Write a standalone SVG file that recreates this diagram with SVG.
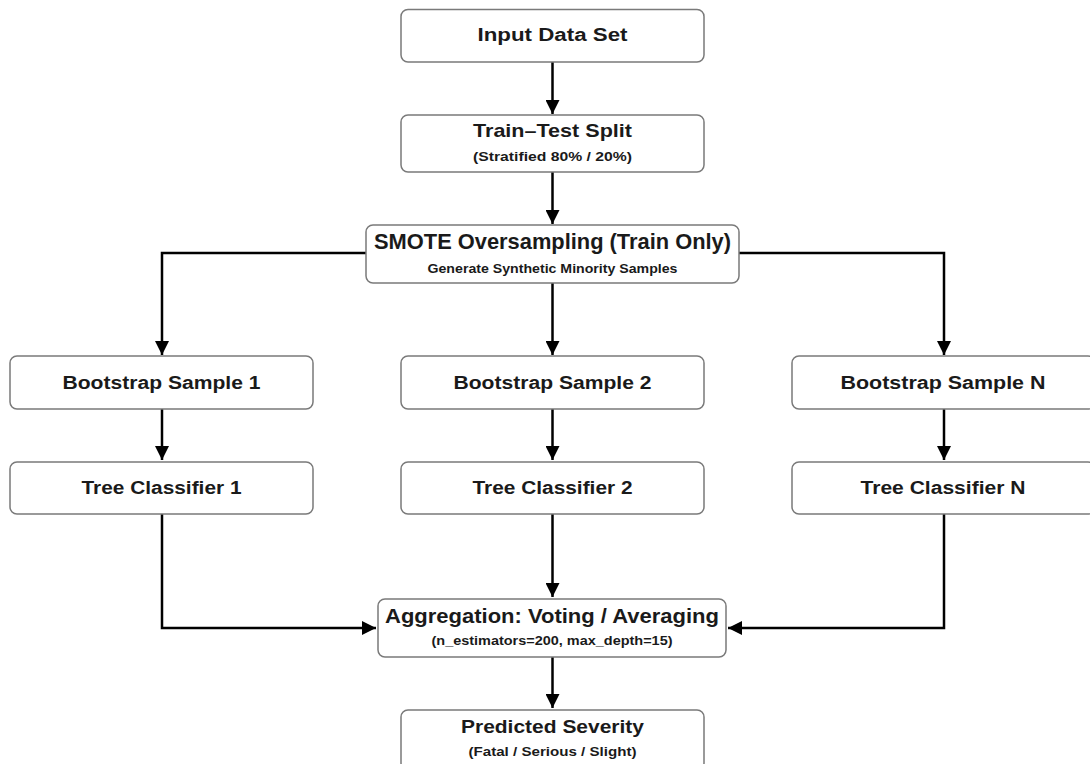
<svg xmlns="http://www.w3.org/2000/svg" width="1090" height="764" viewBox="0 0 1090 764">
<style>
.box{fill:#fff;stroke:#7a7a7a;stroke-width:1.5}
.t{font-family:"Liberation Sans","DejaVu Sans",sans-serif;font-weight:bold;fill:#1a1a1a;text-anchor:middle;dominant-baseline:central}
.s{font-family:"Liberation Sans","DejaVu Sans",sans-serif;font-weight:bold;fill:#1a1a1a;text-anchor:middle;dominant-baseline:central}
.c{fill:none;stroke:#000;stroke-width:2.5}
</style>
<defs>
<marker id="ah" markerWidth="14" markerHeight="14" viewBox="0 0 14 14" refX="14" refY="7" orient="auto" markerUnits="userSpaceOnUse">
<path d="M0,0 L14,7 L0,14 Z" fill="#000"/>
</marker>
</defs>
<rect width="1090" height="764" fill="#fff"/>
<g id="connectors">
<path class="c" d="M552.5,62 V114" marker-end="url(#ah)"/>
<path class="c" d="M552.5,172 V224" marker-end="url(#ah)"/>
<path class="c" d="M366,253 H162 V355" marker-end="url(#ah)"/>
<path class="c" d="M552.5,283 V355" marker-end="url(#ah)"/>
<path class="c" d="M739,253 H944 V355" marker-end="url(#ah)"/>
<path class="c" d="M162,409 V460" marker-end="url(#ah)"/>
<path class="c" d="M552.5,409 V460" marker-end="url(#ah)"/>
<path class="c" d="M944,409 V460" marker-end="url(#ah)"/>
<path class="c" d="M162,514 V628 H376" marker-end="url(#ah)"/>
<path class="c" d="M552.5,514 V597" marker-end="url(#ah)"/>
<path class="c" d="M944,514 V628 H728" marker-end="url(#ah)"/>
<path class="c" d="M552.5,657 V708" marker-end="url(#ah)"/>
</g>
<g id="input">
<rect class="box" x="401" y="9.5" width="303" height="52.5" rx="7"/>
<text class="t" x="552.5" y="35" font-size="18" textLength="150" lengthAdjust="spacingAndGlyphs">Input Data Set</text>
</g>
<g id="split">
<rect class="box" x="401" y="115" width="303" height="57" rx="7"/>
<text class="t" x="552.5" y="130" font-size="19" textLength="159" lengthAdjust="spacingAndGlyphs">Train–Test Split</text>
<text class="s" x="552.5" y="157" font-size="12.5" textLength="159" lengthAdjust="spacingAndGlyphs">(Stratified 80% / 20%)</text>
</g>
<g id="smote">
<rect class="box" x="366" y="225" width="373" height="58" rx="7"/>
<text class="t" x="552.5" y="241" font-size="22" textLength="357" lengthAdjust="spacingAndGlyphs">SMOTE Oversampling (Train Only)</text>
<text class="s" x="552.5" y="269" font-size="12.5" textLength="250" lengthAdjust="spacingAndGlyphs">Generate Synthetic Minority Samples</text>
</g>
<g id="boot1">
<rect class="box" x="10" y="356" width="303" height="53" rx="7"/>
<text class="t" x="161.5" y="382.5" font-size="18" textLength="198" lengthAdjust="spacingAndGlyphs">Bootstrap Sample 1</text>
</g>
<g id="boot2">
<rect class="box" x="401" y="356" width="303" height="53" rx="7"/>
<text class="t" x="552.5" y="382.5" font-size="18" textLength="198" lengthAdjust="spacingAndGlyphs">Bootstrap Sample 2</text>
</g>
<g id="bootN">
<rect class="box" x="792" y="356" width="303" height="53" rx="7"/>
<text class="t" x="943" y="382.5" font-size="18" textLength="205" lengthAdjust="spacingAndGlyphs">Bootstrap Sample N</text>
</g>
<g id="tree1">
<rect class="box" x="10" y="462" width="303" height="52" rx="7"/>
<text class="t" x="161.5" y="488" font-size="18" textLength="160" lengthAdjust="spacingAndGlyphs">Tree Classifier 1</text>
</g>
<g id="tree2">
<rect class="box" x="401" y="462" width="303" height="52" rx="7"/>
<text class="t" x="552.5" y="488" font-size="18" textLength="160" lengthAdjust="spacingAndGlyphs">Tree Classifier 2</text>
</g>
<g id="treeN">
<rect class="box" x="792" y="462" width="303" height="52" rx="7"/>
<text class="t" x="943" y="488" font-size="18" textLength="165" lengthAdjust="spacingAndGlyphs">Tree Classifier N</text>
</g>
<g id="aggregation">
<rect class="box" x="378" y="599" width="348" height="58" rx="7"/>
<text class="t" x="552" y="615" font-size="21" textLength="334" lengthAdjust="spacingAndGlyphs">Aggregation: Voting / Averaging</text>
<text class="s" x="552" y="641" font-size="12.5" textLength="241" lengthAdjust="spacingAndGlyphs">(n_estimators=200, max_depth=15)</text>
</g>
<g id="predicted">
<rect class="box" x="401" y="710" width="303" height="60" rx="7"/>
<text class="t" x="552.5" y="726" font-size="19" textLength="183" lengthAdjust="spacingAndGlyphs">Predicted Severity</text>
<text class="s" x="552.5" y="751" font-size="13" textLength="168" lengthAdjust="spacingAndGlyphs">(Fatal / Serious / Slight)</text>
</g>
</svg>
